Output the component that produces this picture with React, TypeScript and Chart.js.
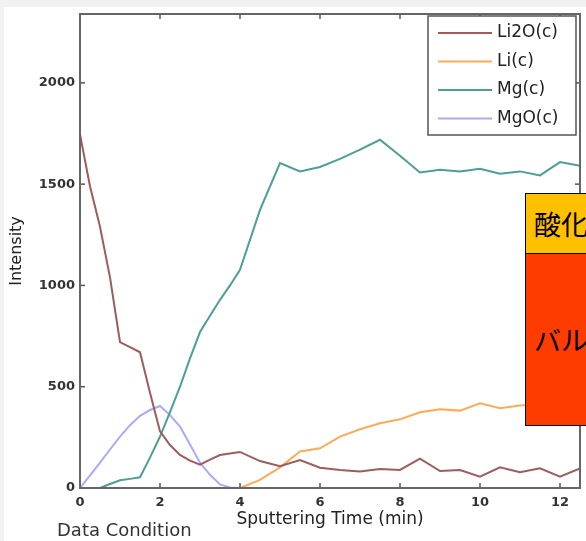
import React, { useEffect, useRef } from "react";
import { Chart, registerables } from "chart.js";

Chart.register(...registerables);

const TIME = [0, 0.25, 0.5, 0.75, 1, 1.25, 1.5, 1.75, 2, 2.25, 2.5, 2.75, 3, 3.25, 3.5, 3.75, 4, 4.5, 5, 5.5, 6, 6.5, 7, 7.5, 8, 8.5, 9, 9.5, 10, 10.5, 11, 11.5, 12, 12.5];
const LI2O = [1745, 1490, 1290, 1040, 720, 695, 670, 470, 280, 212, 163, 135, 115, 140, 163, 170, 178, 133, 108, 138, 100, 89, 81, 94, 89, 145, 84, 89, 56, 102, 78, 97, 56, 97];
const LI = [null, null, null, null, null, null, null, null, null, null, null, null, null, null, null, null, 0, 40, 102, 180, 196, 254, 290, 320, 339, 374, 389, 382, 418, 394, 407, 412, 418, 425];
const MG = [null, null, 0, 20, 38, 45, 53, 150, 254, 375, 500, 640, 770, 850, 929, 1000, 1077, 1373, 1604, 1563, 1585, 1625, 1670, 1719, 1640, 1558, 1571, 1563, 1576, 1551, 1563, 1543, 1609, 1591];
const MGO = [0, 62, 125, 190, 254, 310, 356, 385, 405, 360, 303, 215, 125, 65, 18, 3, 0, null, null, null, null, null, null, null, null, null, null, null, null, null, null, null, null, null];

const X_TICKS = [0, 2, 4, 6, 8, 10, 12];
const Y_TICKS = [0, 500, 1000, 1500, 2000];

const SERIES_NAMES = ["Li2O(c)", "Li(c)", "Mg(c)", "MgO(c)"];
const SERIES_COLORS = ["#a05b5b", "#ffaa55", "#4c9e99", "#a9a9ff"];
const X_TITLE = "Sputtering Time (min)";
const Y_TITLE = "Intensity";

const toPoints = (vals: (number | null)[]) =>
  TIME.map((t, i) => ({ x: t, y: vals[i] }));

const framePlugin = {
  id: "frameLegend",
  afterDatasetsDraw(chart: any) {
    const { ctx, chartArea, scales } = chart;
    const { left, right, top, bottom } = chartArea;
    const xs = scales.x;
    const ys = scales.y;
    const line = (a: number, b: number, c: number, d: number) => {
      ctx.beginPath();
      ctx.moveTo(a, b);
      ctx.lineTo(c, d);
      ctx.stroke();
    };
    ctx.save();
    ctx.strokeStyle = "#555";
    ctx.lineWidth = 1.5;
    xs.ticks.forEach((t: any) => {
      const px = xs.getPixelForValue(t.value);
      line(px, bottom, px, bottom - 5);
      line(px, top, px, top + 5);
    });
    ys.ticks.forEach((t: any) => {
      const py = ys.getPixelForValue(t.value);
      line(left, py, left + 5, py);
      line(right, py, right - 5, py);
    });
    ctx.strokeStyle = "#666";
    ctx.lineWidth = 2;
    ctx.strokeRect(left, top, right - left, bottom - top);

    // legend box
    const bx = right - 152;
    const by = top + 2;
    const bw = 148;
    const bh = 119;
    ctx.fillStyle = "#fff";
    ctx.fillRect(bx, by, bw, bh);
    ctx.strokeStyle = "#555";
    ctx.lineWidth = 1.5;
    ctx.strokeRect(bx, by, bw, bh);
    ctx.font = "17px 'DejaVu Sans'";
    ctx.textBaseline = "middle";
    ctx.textAlign = "left";
    chart.data.datasets.forEach((ds: any, i: number) => {
      const yy = by + 17 + i * 28.5;
      ctx.strokeStyle = ds.borderColor;
      ctx.lineWidth = 2;
      line(bx + 10, yy, bx + 64, yy);
      ctx.fillStyle = "#222";
      ctx.fillText(ds.label, bx + 69, yy);
    });
    ctx.restore();
  },
};

export default function App() {
  const ref = useRef<HTMLCanvasElement | null>(null);

  useEffect(() => {
    if (!ref.current) return;
    const datasets = [LI2O, LI, MG, MGO].map((vals, i) => ({
      label: SERIES_NAMES[i],
      data: toPoints(vals),
      borderColor: SERIES_COLORS[i],
      backgroundColor: SERIES_COLORS[i],
      borderWidth: 2,
      pointRadius: 0,
      tension: 0,
      spanGaps: false,
    }));
    const chart = new Chart(ref.current, {
      type: "line",
      data: { datasets },
      plugins: [framePlugin],
      options: {
        responsive: false,
        animation: false,
        layout: { padding: { left: 0, right: 6, top: 14, bottom: 0 } },
        plugins: { legend: { display: false }, tooltip: { enabled: false } },
        scales: {
          x: {
            type: "linear",
            min: 0,
            max: 12.5,
            grid: { display: false, drawTicks: false },
            border: { display: false },
            afterBuildTicks: (s: any) => {
              s.ticks = X_TICKS.map((v) => ({ value: v }));
            },
            ticks: {
              autoSkip: false,
              padding: 7,
              color: "#333",
              font: { family: "'DejaVu Sans'", size: 13, weight: "bold" },
              maxRotation: 0,
            },
            title: {
              display: true,
              text: X_TITLE,
              color: "#222",
              font: { family: "'DejaVu Sans'", size: 17 },
              padding: { top: 0, bottom: 11 },
            },
            afterFit: (s: any) => {
              s.height = 53;
            },
          },
          y: {
            type: "linear",
            min: 0,
            max: 2340,
            grid: { display: false, drawTicks: false },
            border: { display: false },
            afterBuildTicks: (s: any) => {
              s.ticks = Y_TICKS.map((v) => ({ value: v }));
            },
            ticks: {
              autoSkip: false,
              padding: 5,
              color: "#333",
              font: { family: "'DejaVu Sans'", size: 13, weight: "bold" },
              callback: (v: any) => String(v),
            },
            title: {
              display: true,
              text: Y_TITLE,
              color: "#222",
              font: { family: "'DejaVu Sans'", size: 16 },
              padding: { top: 7, bottom: 0 },
            },
            afterFit: (s: any) => {
              s.width = 80;
            },
          },
        },
      },
    } as any);
    return () => chart.destroy();
  }, []);

  return (
    <div
      style={{
        position: "absolute",
        left: 0,
        top: 0,
        width: 586,
        height: 541,
        overflow: "hidden",
        background: "#f2f2f2",
      }}
    >
      <div style={{ position: "absolute", left: 4, top: 7, right: 0, bottom: 0, background: "#fff" }} />
      <canvas
        ref={ref}
        width={586}
        height={541}
        style={{ position: "absolute", left: 0, top: 0, width: 586, height: 541 }}
      />
      <div
        style={{
          position: "absolute",
          left: 57,
          top: 518,
          fontFamily: "'DejaVu Sans'",
          fontSize: 18,
          color: "#333",
          lineHeight: "24px",
          whiteSpace: "nowrap",
        }}
      >
        Data Condition
      </div>
      <div
        style={{
          position: "absolute",
          left: 525,
          top: 193,
          width: 120,
          height: 61,
          boxSizing: "border-box",
          background: "#ffc000",
          border: "1.5px solid #000",
          display: "flex",
          alignItems: "center",
          paddingLeft: 8,
          fontFamily: "'Noto Sans CJK JP'",
          fontSize: 27,
          color: "#000",
          whiteSpace: "nowrap",
        }}
      >
        酸化物
      </div>
      <div
        style={{
          position: "absolute",
          left: 525,
          top: 253,
          width: 120,
          height: 173,
          boxSizing: "border-box",
          background: "#ff3c00",
          border: "1.5px solid #000",
          display: "flex",
          alignItems: "center",
          paddingLeft: 8,
          fontFamily: "'Noto Sans CJK JP'",
          fontSize: 27,
          color: "#000",
          whiteSpace: "nowrap",
        }}
      >
        バルク
      </div>
    </div>
  );
}
